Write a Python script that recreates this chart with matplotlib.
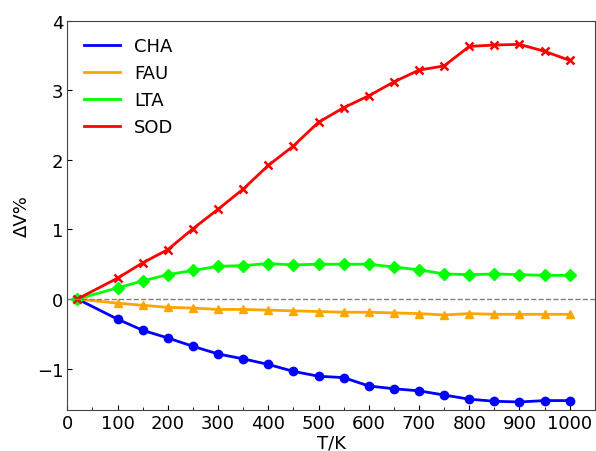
import numpy as np
import matplotlib
matplotlib.use("Agg")
import matplotlib.pyplot as plt
from matplotlib.lines import Line2D

T = [20, 100, 150, 200, 250, 300, 350, 400, 450, 500, 550, 600, 650, 700, 750, 800, 850, 900, 950, 1000]

cha = [0, -0.29, -0.45, -0.56, -0.68, -0.79, -0.86, -0.94, -1.04, -1.11, -1.13, -1.25, -1.29, -1.32, -1.38, -1.44, -1.47, -1.48, -1.46, -1.46]
fau = [0, -0.06, -0.09, -0.12, -0.13, -0.15, -0.15, -0.16, -0.17, -0.18, -0.19, -0.19, -0.20, -0.21, -0.23, -0.21, -0.22, -0.22, -0.22, -0.22]
lta = [0, 0.16, 0.26, 0.35, 0.41, 0.47, 0.48, 0.51, 0.49, 0.50, 0.50, 0.50, 0.46, 0.42, 0.36, 0.35, 0.36, 0.35, 0.34, 0.34]
sod = [0, 0.30, 0.52, 0.71, 1.01, 1.29, 1.58, 1.92, 2.20, 2.54, 2.75, 2.92, 3.12, 3.29, 3.35, 3.63, 3.65, 3.66, 3.56, 3.43]

names = ["CHA", "FAU", "LTA", "SOD"]
colors = ["blue", "orange", "lime", "red"]
markers = ["o", "^", "D", "x"]

plt.rcParams['font.size'] = 13
fig, ax = plt.subplots(figsize=(5.96, 4.52), dpi=100)

for y, c, m in zip([cha, fau, lta, sod], colors, markers):
    mew = 1 if m != "x" else 1.8
    ax.plot(T, y, color=c, marker=m, lw=2, ms=6, mew=mew)

ax.axhline(0, color="gray", ls="--", lw=1)

handles = [Line2D([], [], color=c, lw=2) for c in colors]
ax.legend(handles, names, loc="upper left", frameon=False, fontsize=13)

ax.set_xlim(0, 1050)
ax.set_ylim(-1.6, 4)
ax.set_xticks(np.arange(0, 1001, 100))
ax.set_xticks(np.arange(50, 1001, 100), minor=True)
ax.set_yticks([-1, 0, 1, 2, 3, 4])
ax.tick_params(direction="in", which="both", pad=3)
ax.set_xlabel("T/K", labelpad=1)
ax.set_ylabel("ΔV%")
for s in ax.spines.values():
    s.set_color("#444444")

fig.subplots_adjust(left=0.113, right=0.998, top=0.952, bottom=0.09)
fig.savefig("out.png")
